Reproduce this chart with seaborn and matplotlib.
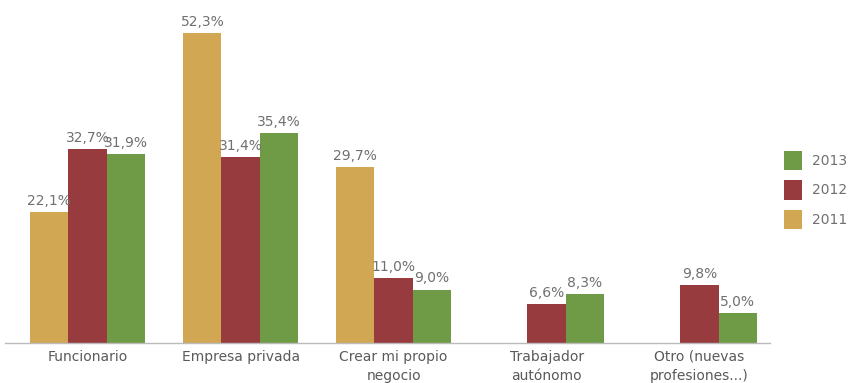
import numpy as np
import pandas as pd
import matplotlib
matplotlib.use("Agg")
import matplotlib.pyplot as plt
import seaborn as sns
from matplotlib.patches import Patch

categories = ["Funcionario", "Empresa privada", "Crear mi propio\nnegocio",
              "Trabajador\nautónomo", "Otro (nuevas\nprofesiones...)"]
years = ["2011", "2012", "2013"]
v2011 = [22.1, 52.3, 29.7, np.nan, np.nan]
v2012 = [32.7, 31.4, 11.0, 6.6, 9.8]
v2013 = [31.9, 35.4, 9.0, 8.3, 5.0]
colors = {"2011": "#D2A753", "2012": "#973B3E", "2013": "#6F9B47"}

rows = []
for y, vals in zip(years, [v2011, v2012, v2013]):
    for c, v in zip(categories, vals):
        rows.append({"cat": c, "year": y, "val": v})
df = pd.DataFrame(rows)

sns.set_theme(style="white")
plt.rcParams['font.family'] = ['DejaVu Sans']
fig = plt.figure(figsize=(8.51, 3.83), dpi=100)
ax = fig.add_axes([5/851, 40/383, 765/851, 323/383])

sns.barplot(data=df.dropna(), x="cat", y="val", hue="year", order=categories,
            hue_order=years, palette=colors, width=0.75, saturation=1,
            edgecolor="none", linewidth=0, ax=ax, legend=False)

for cont in ax.containers:
    labels = [f"{b.get_height():.1f}%".replace(".", ",") for b in cont]
    ax.bar_label(cont, labels=labels, padding=3, fontsize=10, color="#707070")

ax.set_xlim(-0.54, 4.46)
ax.set_ylim(0, 54.5)
ax.set_xlabel("")
ax.set_ylabel("")
ax.set_yticks([])
for s in ["top", "right", "left"]:
    ax.spines[s].set_visible(False)
ax.spines["bottom"].set_color("#bbbbbb")
ax.spines["bottom"].set_linewidth(1)
ax.tick_params(axis="x", length=0, pad=5, labelsize=10, labelcolor="#5a5a5a")
for t in ax.get_xticklabels():
    t.set_linespacing(1.45)

handles = [Patch(facecolor=colors[y], edgecolor="none") for y in ["2013", "2012", "2011"]]
fig.legend(handles, ["2013", "2012", "2011"], loc="center left",
           bbox_to_anchor=(771/851, 1 - 190/383), frameon=False,
           fontsize=10, labelcolor="#707070", handlelength=1.35, handleheight=1.75,
           labelspacing=0.75, handletextpad=0.7)

fig.savefig("out.png", dpi=100)
